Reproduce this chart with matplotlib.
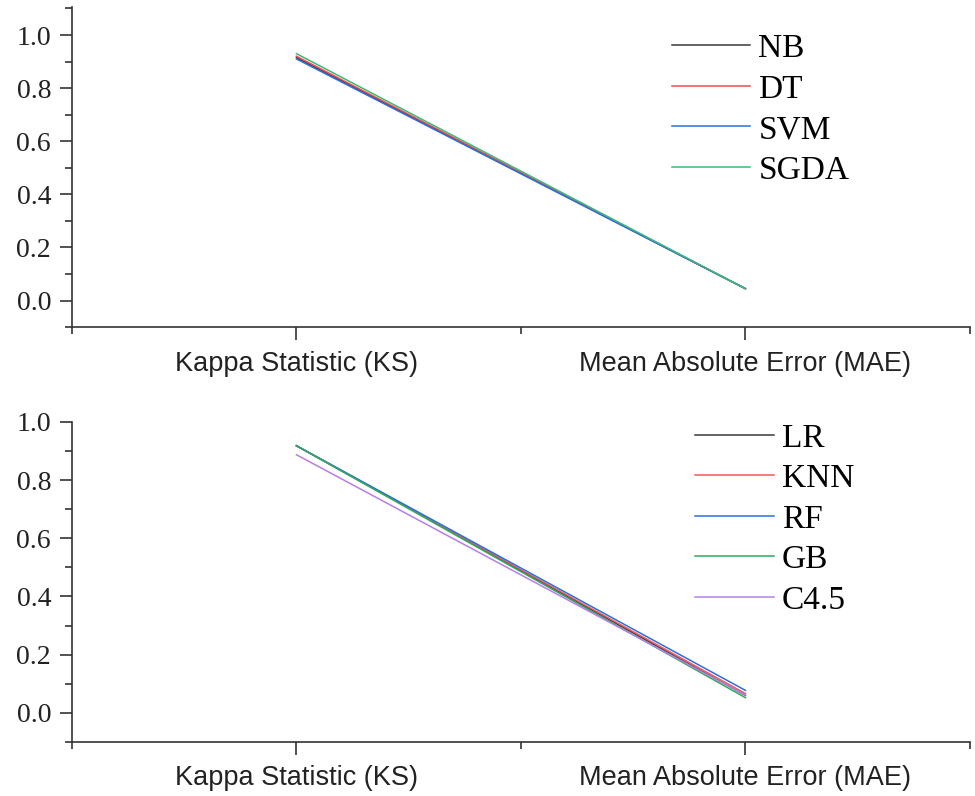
import matplotlib
matplotlib.use("Agg")
import matplotlib.pyplot as plt
from matplotlib.ticker import MultipleLocator, FixedLocator

metrics = ["Kappa Statistic (KS)", "Mean Absolute Error (MAE)"]

# First group of classifiers: [KS, MAE]
top_names = ["NB", "DT", "SVM", "SGDA"]
NB = [0.915, 0.045]
DT = [0.920, 0.045]
SVM = [0.910, 0.045]
SGDA = [0.930, 0.045]
top_values = [NB, DT, SVM, SGDA]
top_colors = ["#3a3a3a", "#f04a4a", "#2a6fe0", "#3cb878"]

# Second group of classifiers: [KS, MAE]
bot_names = ["LR", "KNN", "RF", "GB", "C4.5"]
LR = [0.918, 0.060]
KNN = [0.918, 0.066]
RF = [0.918, 0.077]
GB = [0.918, 0.052]
C45 = [0.887, 0.061]
bot_values = [LR, KNN, RF, GB, C45]
bot_colors = ["#3a3a3a", "#f05a5a", "#2a6fe0", "#2eaa60", "#b57ee8"]

fig = plt.figure(figsize=(9.75, 7.96), dpi=100)
ax1 = fig.add_axes([0.0738, 0.589, 0.921, 0.402])
ax2 = fig.add_axes([0.0738, 0.068, 0.921, 0.402])

serif = ["Liberation Serif", "DejaVu Serif"]
sans = ["Liberation Sans", "DejaVu Sans"]


def style(ax, ylim):
    x = list(range(len(metrics)))
    ax.set_xlim(-0.5, 1.5)
    ax.set_ylim(*ylim)
    ax.spines["top"].set_visible(False)
    ax.spines["right"].set_visible(False)
    for s in ("left", "bottom"):
        ax.spines[s].set_color("#333333")
        ax.spines[s].set_linewidth(1.2)
    ax.set_xticks(x)
    ax.set_xticklabels(metrics, fontfamily=sans, fontsize=19.5)
    ax.xaxis.set_minor_locator(FixedLocator([-0.5, 0.5, 1.5]))
    ax.set_yticks([0.0, 0.2, 0.4, 0.6, 0.8, 1.0])
    ax.set_yticklabels(["0.0", "0.2", "0.4", "0.6", "0.8", "1.0"],
                       fontfamily=serif, fontsize=20)
    ax.yaxis.set_minor_locator(MultipleLocator(0.1))
    ax.tick_params(axis="both", which="major", direction="out", length=9,
                   width=1.2, color="#333333", labelcolor="#222222")
    ax.tick_params(axis="x", which="major", pad=8)
    ax.tick_params(axis="y", which="major", pad=6)
    ax.tick_params(axis="both", which="minor", direction="out", length=5,
                   width=1.2, color="#333333")


x = list(range(len(metrics)))
for name, vals, c in zip(top_names, top_values, top_colors):
    ax1.plot(x, vals, color=c, lw=1.1, label=name)
for name, vals, c in zip(bot_names, bot_values, bot_colors):
    ax2.plot(x, vals, color=c, lw=1.1, label=name)

style(ax1, (-0.1, 1.105))
style(ax2, (-0.1, 1.0))

leg_kw = dict(frameon=False, prop={"family": serif, "size": 24},
              handlelength=2.35, handletextpad=0.25, labelspacing=0.30,
              borderaxespad=0.2)
ax1.legend(loc="upper left", bbox_to_anchor=(0.6456, 0.98), **leg_kw)
ax2.legend(loc="upper left", bbox_to_anchor=(0.672, 1.059), **leg_kw)

fig.savefig("out.png", dpi=100)
